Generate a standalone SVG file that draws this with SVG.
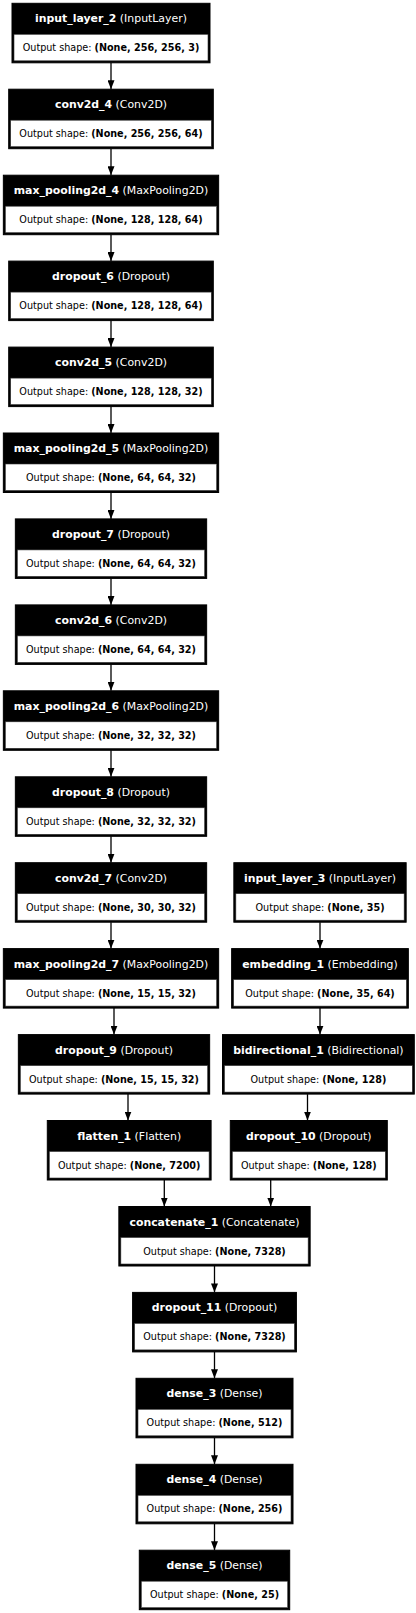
<svg xmlns="http://www.w3.org/2000/svg" width="416" height="1613" viewBox="0 0 416 1613">
<style>
.o{fill:#000;stroke:#000;stroke-width:1}
.w{fill:#fff;stroke:#333;stroke-width:0.6}
.h{font-family:"DejaVu Sans",sans-serif;font-size:10.9px;fill:#fff;text-anchor:middle}
.s{font-family:"DejaVu Sans",sans-serif;font-size:9.65px;fill:#000;text-anchor:middle}
.b{font-weight:bold}
.e{stroke:#000;stroke-width:1.3;fill:none;marker-end:url(#ah)}
</style>
<defs>
<marker id="ah" viewBox="0 -3.5 9 7" refX="9" refY="0" markerWidth="9" markerHeight="7" markerUnits="userSpaceOnUse" orient="auto"><path d="M0,-3.5 L9,0 L0,3.5 z" fill="#000"/></marker>
</defs>
<g id="connectors">
<path class="e" d="M111,62.8 V89.2"/>
<path class="e" d="M111,148.7 V175.2"/>
<path class="e" d="M111,234.7 V261.1"/>
<path class="e" d="M111,320.6 V347.1"/>
<path class="e" d="M111,406.6 V433"/>
<path class="e" d="M111,492.5 V518.9"/>
<path class="e" d="M111,578.4 V604.9"/>
<path class="e" d="M111,664.4 V690.8"/>
<path class="e" d="M111,750.3 V776.8"/>
<path class="e" d="M111,836.3 V862.7"/>
<path class="e" d="M111,922.2 V948.6"/>
<path class="e" d="M114,1008.1 V1034.6"/>
<path class="e" d="M128,1094.1 V1120.5"/>
<path class="e" d="M320,922.2 V948.6"/>
<path class="e" d="M320,1008.1 V1034.6"/>
<path class="e" d="M307.5,1094.1 V1120.5"/>
<path class="e" d="M164.3,1180 V1206.5"/>
<path class="e" d="M270.7,1180 V1206.5"/>
<path class="e" d="M214.5,1266 V1292.4"/>
<path class="e" d="M214.5,1351.9 V1378.3"/>
<path class="e" d="M214.5,1437.8 V1464.3"/>
<path class="e" d="M214.5,1523.8 V1550.2"/>
</g>
<g id="input_layer_2">
<rect class="o" x="12" y="3.3" width="198" height="59.5"/><rect class="w" x="14" y="34.3" width="194" height="26.5"/>
<text class="h" x="111" y="22.3"><tspan class="b">input_layer_2</tspan> (InputLayer)</text>
<text class="s" x="111" y="51.3">Output shape: <tspan class="b">(None, 256, 256, 3)</tspan></text>
</g>
<g id="conv2d_4">
<rect class="o" x="8.7" y="89.2" width="204.6" height="59.5"/><rect class="w" x="10.7" y="120.2" width="200.6" height="26.5"/>
<text class="h" x="111" y="108.2"><tspan class="b">conv2d_4</tspan> (Conv2D)</text>
<text class="s" x="111" y="137.2">Output shape: <tspan class="b">(None, 256, 256, 64)</tspan></text>
</g>
<g id="max_pooling2d_4">
<rect class="o" x="3.35" y="175.2" width="215.3" height="59.5"/><rect class="w" x="5.35" y="206.2" width="211.3" height="26.5"/>
<text class="h" x="111" y="194.2"><tspan class="b">max_pooling2d_4</tspan> (MaxPooling2D)</text>
<text class="s" x="111" y="223.2">Output shape: <tspan class="b">(None, 128, 128, 64)</tspan></text>
</g>
<g id="dropout_6">
<rect class="o" x="8.7" y="261.1" width="204.6" height="59.5"/><rect class="w" x="10.7" y="292.1" width="200.6" height="26.5"/>
<text class="h" x="111" y="280.1"><tspan class="b">dropout_6</tspan> (Dropout)</text>
<text class="s" x="111" y="309.1">Output shape: <tspan class="b">(None, 128, 128, 64)</tspan></text>
</g>
<g id="conv2d_5">
<rect class="o" x="8.7" y="347.1" width="204.6" height="59.5"/><rect class="w" x="10.7" y="378.1" width="200.6" height="26.5"/>
<text class="h" x="111" y="366.1"><tspan class="b">conv2d_5</tspan> (Conv2D)</text>
<text class="s" x="111" y="395.1">Output shape: <tspan class="b">(None, 128, 128, 32)</tspan></text>
</g>
<g id="max_pooling2d_5">
<rect class="o" x="3.35" y="433" width="215.3" height="59.5"/><rect class="w" x="5.35" y="464" width="211.3" height="26.5"/>
<text class="h" x="111" y="452"><tspan class="b">max_pooling2d_5</tspan> (MaxPooling2D)</text>
<text class="s" x="111" y="481">Output shape: <tspan class="b">(None, 64, 64, 32)</tspan></text>
</g>
<g id="dropout_7">
<rect class="o" x="15.35" y="518.9" width="191.3" height="59.5"/><rect class="w" x="17.35" y="549.9" width="187.3" height="26.5"/>
<text class="h" x="111" y="537.9"><tspan class="b">dropout_7</tspan> (Dropout)</text>
<text class="s" x="111" y="566.9">Output shape: <tspan class="b">(None, 64, 64, 32)</tspan></text>
</g>
<g id="conv2d_6">
<rect class="o" x="15.35" y="604.9" width="191.3" height="59.5"/><rect class="w" x="17.35" y="635.9" width="187.3" height="26.5"/>
<text class="h" x="111" y="623.9"><tspan class="b">conv2d_6</tspan> (Conv2D)</text>
<text class="s" x="111" y="652.9">Output shape: <tspan class="b">(None, 64, 64, 32)</tspan></text>
</g>
<g id="max_pooling2d_6">
<rect class="o" x="3.35" y="690.8" width="215.3" height="59.5"/><rect class="w" x="5.35" y="721.8" width="211.3" height="26.5"/>
<text class="h" x="111" y="709.8"><tspan class="b">max_pooling2d_6</tspan> (MaxPooling2D)</text>
<text class="s" x="111" y="738.8">Output shape: <tspan class="b">(None, 32, 32, 32)</tspan></text>
</g>
<g id="dropout_8">
<rect class="o" x="15.35" y="776.8" width="191.3" height="59.5"/><rect class="w" x="17.35" y="807.8" width="187.3" height="26.5"/>
<text class="h" x="111" y="795.8"><tspan class="b">dropout_8</tspan> (Dropout)</text>
<text class="s" x="111" y="824.8">Output shape: <tspan class="b">(None, 32, 32, 32)</tspan></text>
</g>
<g id="conv2d_7">
<rect class="o" x="15.35" y="862.7" width="191.3" height="59.5"/><rect class="w" x="17.35" y="893.7" width="187.3" height="26.5"/>
<text class="h" x="111" y="881.7"><tspan class="b">conv2d_7</tspan> (Conv2D)</text>
<text class="s" x="111" y="910.7">Output shape: <tspan class="b">(None, 30, 30, 32)</tspan></text>
</g>
<g id="max_pooling2d_7">
<rect class="o" x="3.35" y="948.6" width="215.3" height="59.5"/><rect class="w" x="5.35" y="979.6" width="211.3" height="26.5"/>
<text class="h" x="111" y="967.6"><tspan class="b">max_pooling2d_7</tspan> (MaxPooling2D)</text>
<text class="s" x="111" y="996.6">Output shape: <tspan class="b">(None, 15, 15, 32)</tspan></text>
</g>
<g id="dropout_9">
<rect class="o" x="18.35" y="1034.6" width="191.3" height="59.5"/><rect class="w" x="20.35" y="1065.6" width="187.3" height="26.5"/>
<text class="h" x="114" y="1053.6"><tspan class="b">dropout_9</tspan> (Dropout)</text>
<text class="s" x="114" y="1082.6">Output shape: <tspan class="b">(None, 15, 15, 32)</tspan></text>
</g>
<g id="flatten_1">
<rect class="o" x="47.3" y="1120.5" width="163.8" height="59.5"/><rect class="w" x="49.3" y="1151.5" width="159.8" height="26.5"/>
<text class="h" x="129.2" y="1139.5"><tspan class="b">flatten_1</tspan> (Flatten)</text>
<text class="s" x="129.2" y="1168.5">Output shape: <tspan class="b">(None, 7200)</tspan></text>
</g>
<g id="input_layer_3">
<rect class="o" x="233.85" y="862.7" width="172.3" height="59.5"/><rect class="w" x="235.85" y="893.7" width="168.3" height="26.5"/>
<text class="h" x="320" y="881.7"><tspan class="b">input_layer_3</tspan> (InputLayer)</text>
<text class="s" x="320" y="910.7">Output shape: <tspan class="b">(None, 35)</tspan></text>
</g>
<g id="embedding_1">
<rect class="o" x="231.65" y="948.6" width="176.7" height="59.5"/><rect class="w" x="233.65" y="979.6" width="172.7" height="26.5"/>
<text class="h" x="320" y="967.6"><tspan class="b">embedding_1</tspan> (Embedding)</text>
<text class="s" x="320" y="996.6">Output shape: <tspan class="b">(None, 35, 64)</tspan></text>
</g>
<g id="bidirectional_1">
<rect class="o" x="222.5" y="1034.6" width="191.8" height="59.5"/><rect class="w" x="224.5" y="1065.6" width="187.8" height="26.5"/>
<text class="h" x="318.4" y="1053.6"><tspan class="b">bidirectional_1</tspan> (Bidirectional)</text>
<text class="s" x="318.4" y="1082.6">Output shape: <tspan class="b">(None, 128)</tspan></text>
</g>
<g id="dropout_10">
<rect class="o" x="230.3" y="1120.5" width="157" height="59.5"/><rect class="w" x="232.3" y="1151.5" width="153" height="26.5"/>
<text class="h" x="308.8" y="1139.5"><tspan class="b">dropout_10</tspan> (Dropout)</text>
<text class="s" x="308.8" y="1168.5">Output shape: <tspan class="b">(None, 128)</tspan></text>
</g>
<g id="concatenate_1">
<rect class="o" x="118.85" y="1206.5" width="191.3" height="59.5"/><rect class="w" x="120.85" y="1237.5" width="187.3" height="26.5"/>
<text class="h" x="214.5" y="1225.5"><tspan class="b">concatenate_1</tspan> (Concatenate)</text>
<text class="s" x="214.5" y="1254.5">Output shape: <tspan class="b">(None, 7328)</tspan></text>
</g>
<g id="dropout_11">
<rect class="o" x="132.6" y="1292.4" width="163.8" height="59.5"/><rect class="w" x="134.6" y="1323.4" width="159.8" height="26.5"/>
<text class="h" x="214.5" y="1311.4"><tspan class="b">dropout_11</tspan> (Dropout)</text>
<text class="s" x="214.5" y="1340.4">Output shape: <tspan class="b">(None, 7328)</tspan></text>
</g>
<g id="dense_3">
<rect class="o" x="136" y="1378.3" width="157" height="59.5"/><rect class="w" x="138" y="1409.3" width="153" height="26.5"/>
<text class="h" x="214.5" y="1397.3"><tspan class="b">dense_3</tspan> (Dense)</text>
<text class="s" x="214.5" y="1426.3">Output shape: <tspan class="b">(None, 512)</tspan></text>
</g>
<g id="dense_4">
<rect class="o" x="136" y="1464.3" width="157" height="59.5"/><rect class="w" x="138" y="1495.3" width="153" height="26.5"/>
<text class="h" x="214.5" y="1483.3"><tspan class="b">dense_4</tspan> (Dense)</text>
<text class="s" x="214.5" y="1512.3">Output shape: <tspan class="b">(None, 256)</tspan></text>
</g>
<g id="dense_5">
<rect class="o" x="139.3" y="1550.2" width="150.4" height="59.5"/><rect class="w" x="141.3" y="1581.2" width="146.4" height="26.5"/>
<text class="h" x="214.5" y="1569.2"><tspan class="b">dense_5</tspan> (Dense)</text>
<text class="s" x="214.5" y="1598.2">Output shape: <tspan class="b">(None, 25)</tspan></text>
</g>
</svg>
